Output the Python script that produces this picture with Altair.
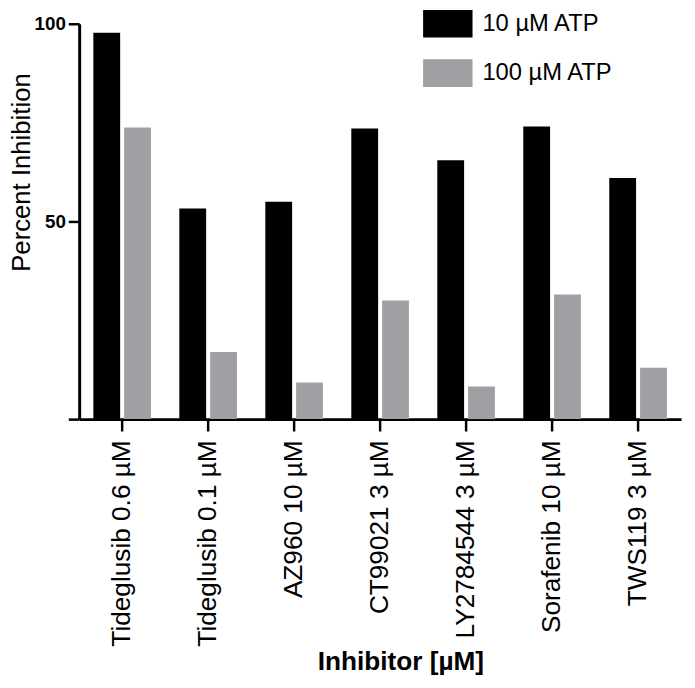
import altair as alt
import pandas as pd

inhibitors = ["Tideglusib 0.6 µM", "Tideglusib 0.1 µM", "AZ960 10 µM", "CT99021 3 µM",
              "LY2784544 3 µM", "Sorafenib 10 µM", "TWS119 3 µM"]
series = ["10 µM ATP", "100 µM ATP"]
atp10 = [97.75, 53.25, 55.0, 73.5, 65.5, 74.0, 61.0]
atp100 = [73.75, 17.0, 9.25, 30.0, 8.25, 31.5, 13.0]
colors = ["#000000", "#a0a0a4"]

rows = []
for i, name in enumerate(inhibitors):
    rows.append({"inhibitor": name, "atp": series[0], "value": atp10[i]})
    rows.append({"inhibitor": name, "atp": series[1], "value": atp100[i]})
df = pd.DataFrame(rows)

font = "Liberation Sans"

chart = alt.Chart(df).mark_bar().encode(
    x=alt.X("inhibitor:N", sort=inhibitors,
            scale=alt.Scale(paddingInner=0.33, paddingOuter=0.165),
            axis=alt.Axis(title="Inhibitor [µM]", labelAngle=270, labelFont=font,
                          labelFontSize=26.5, labelColor="black", labelPadding=9,
                          labelLimit=0,
                          tickSize=12, tickWidth=2.5, tickColor="black",
                          domainColor="black", domainWidth=3,
                          titleFont=font, titleFontSize=26.5, titleFontWeight="bold",
                          titleColor="black", titleX=325, titleY=253,
                          titleAlign="center", titleBaseline="alphabetic")),
    xOffset=alt.XOffset("atp:N", sort=series, scale=alt.Scale(paddingInner=0.13)),
    y=alt.Y("value:Q", scale=alt.Scale(domain=[0, 100], nice=False),
            axis=alt.Axis(title="Percent Inhibition", values=[0, 50, 100],
                          labelExpr="datum.value == 0 ? '' : datum.label",
                          labelFont=font, labelFontSize=19, labelFontWeight="bold",
                          labelColor="black", labelPadding=3,
                          tickSize=11, tickWidth=2.5, tickColor="black",
                          domainColor="black", domainWidth=3, grid=False,
                          titleFont=font, titleFontSize=26, titleFontWeight="normal",
                          titleColor="black", titleAngle=270, titleX=-50, titleY=150,
                          titleAlign="center", titleBaseline="alphabetic")),
    color=alt.Color("atp:N", sort=series,
                    scale=alt.Scale(domain=series, range=colors),
                    legend=alt.Legend(title=None, orient="none", legendX=348, legendY=-25,
                                      symbolType="M-1,-0.56L1,-0.56L1,0.56L-1,0.56Z",
                                      symbolSize=2500, symbolStrokeWidth=0,
                                      symbolOpacity=1, labelFont=font, labelFontSize=24,
                                      labelColor="black", labelOffset=10, labelLimit=0,
                                      rowPadding=11, padding=0)),
).properties(
    width=609, height=400,
    autosize=alt.AutoSizeParams(type="none"),
    padding={"left": 72, "top": 12, "right": 6, "bottom": 260},
).configure_view(strokeWidth=0)

chart.save("out.html", embed_options={"renderer": "svg", "actions": False})
